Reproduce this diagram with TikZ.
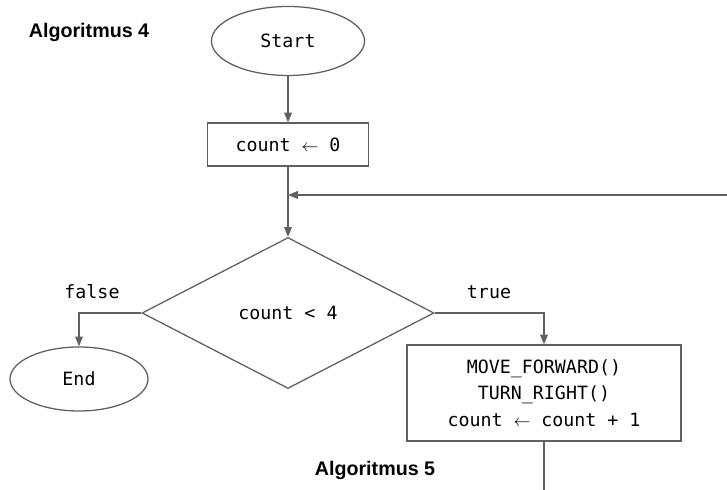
\documentclass[tikz,border=0pt]{standalone}
\usepackage{fontspec}
\setmainfont{Liberation Sans}
\setmonofont{DejaVu Sans Mono}
\usetikzlibrary{shapes.geometric, arrows.meta}
\definecolor{linegray}{HTML}{5F5F5F}

\begin{document}
\begin{tikzpicture}[>={Triangle[length=7pt,width=5.5pt]},
        flow/.style={draw=linegray, line width=0.9pt},
        terminal/.style={flow, ellipse, inner sep=0pt, font=\ttfamily\fontsize{13}{16}\selectfont},
        process/.style={flow, rectangle, inner sep=0pt, align=center, font=\ttfamily\fontsize{13}{18.8}\selectfont},
        decision/.style={flow, diamond, inner sep=0pt, font=\ttfamily\fontsize{13}{16}\selectfont},
        branch/.style={font=\ttfamily\fontsize{13}{16}\selectfont},
        title/.style={font=\bfseries\fontsize{14}{17}\selectfont}]
        \useasboundingbox (0,0) rectangle (18.175,12.25);

        % Titles
        \node[title] (alg4) at (2.225,11.45) {Algoritmus 4};
        \node[title] (alg5) at (9.375,0.5) {Algoritmus 5};

        % Blocks
        \node[terminal, minimum width=3.825cm, minimum height=1.725cm] (start) at (7.2,11.225) {Start};
        \node[process, minimum width=4.025cm, minimum height=1.075cm] (init) at (7.2,8.6375) {count $\leftarrow$ 0};
        \node[decision, minimum width=7.3cm, minimum height=3.775cm] (test) at (7.2,4.425) {count < 4};
        \node[terminal, minimum width=3.45cm, minimum height=1.6cm] (end) at (1.975,2.775) {End};
        \node[process, minimum width=6.85cm, minimum height=2.4cm] (body) at (13.6,2.425)
            {MOVE\_FORWARD()\\TURN\_RIGHT()\\count $\leftarrow$ count + 1};

        % Branch labels
        \node[branch] (false) at (2.3,4.95) {false};
        \node[branch] (true) at (12.225,4.95) {true};

        % Loop points
        \coordinate (merge) at (7.2,7.375);
        \coordinate (back) at (18.175,7.375);
        \coordinate (out) at (13.6,0);

        % Connectors
        \draw[flow, ->] (start) -- (init);
        \draw[flow, ->] (init) -- (merge) -- (test.north);
        \draw[flow, ->] (back) -- (merge);
        \draw[flow, ->] (test.west) -| (end.north);
        \draw[flow, ->] (test.east) -| (body.north);
        \draw[flow] (body.south) -- (out);
    \end{tikzpicture}
\end{document}
